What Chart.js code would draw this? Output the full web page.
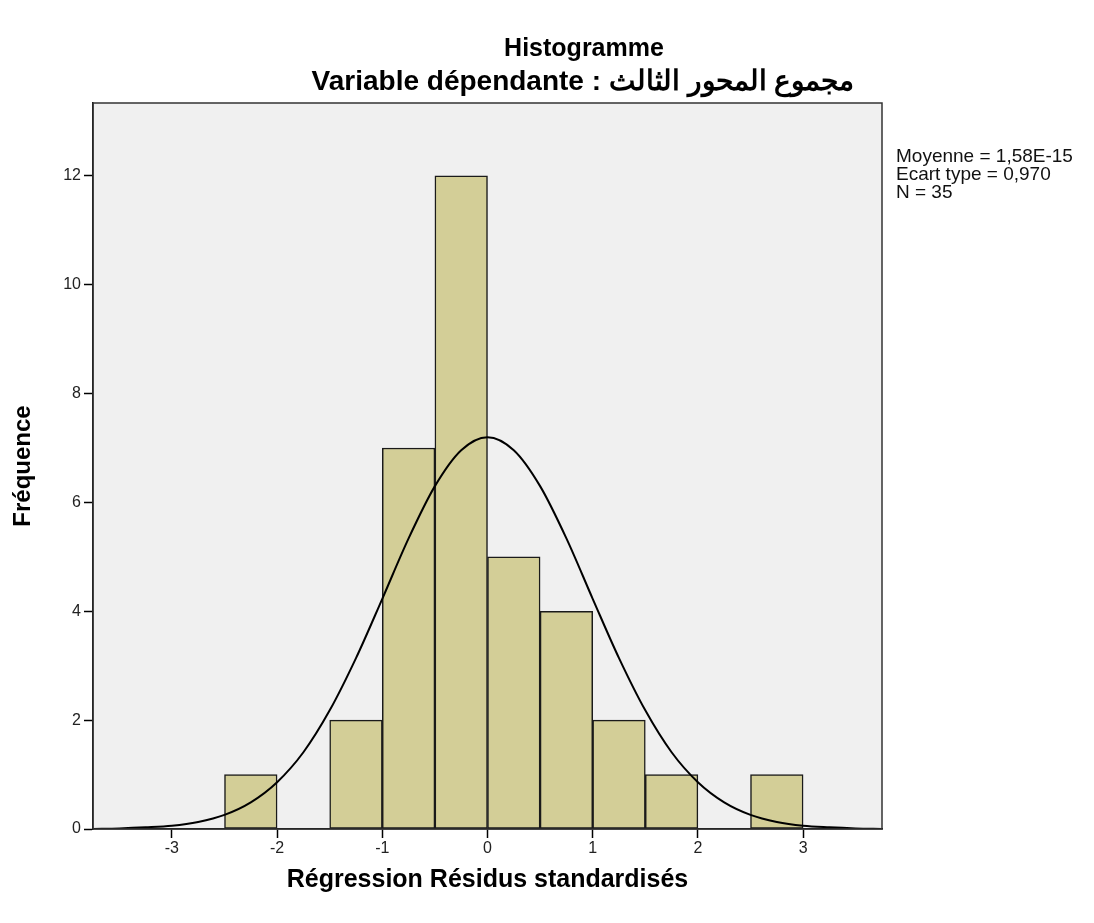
<!DOCTYPE html>
<html>
<head>
<meta charset="utf-8">
<script src="https://cdn.jsdelivr.net/npm/chart.js@4.4.1/dist/chart.umd.min.js"></script>
<style>
  html, body { margin: 0; padding: 0; background: #fff; }
  #wrap { width: 1094px; height: 923px; position: relative; }
</style>
</head>
<body>
<div id="wrap"><canvas id="histo"></canvas></div>
<script>
// bins are 0.5 wide, given by their centre
var binCenters = [-2.25, -1.25, -0.75, -0.25, 0.25, 0.75, 1.25, 1.75, 2.75];
var binCounts = [1, 2, 7, 12, 5, 4, 2, 1, 1];

// normal curve
var curveX = [-3.75, -3.5, -3.25, -3, -2.75, -2.5, -2.25, -2, -1.75, -1.5, -1.25, -1, -0.75, -0.5, -0.25,
              0, 0.25, 0.5, 0.75, 1, 1.25, 1.5, 1.75, 2, 2.25, 2.5, 2.75, 3, 3.25, 3.5, 3.75];
var curveY = [0.00, 0.01, 0.03, 0.06, 0.13, 0.26, 0.49, 0.86, 1.41, 2.18, 3.14, 4.23, 5.34, 6.30, 6.96,
              7.20, 6.96, 6.30, 5.34, 4.23, 3.14, 2.18, 1.41, 0.86, 0.49, 0.26, 0.13, 0.06, 0.03, 0.01, 0.00];

var xTicks = [-3, -2, -1, 0, 1, 2, 3];
var yTicks = [0, 2, 4, 6, 8, 10, 12];

var chartTitle = 'Histogramme';
var chartSubtitle = 'Variable dépendante : مجموع المحور الثالث';
var statsLines = ['Moyenne = 1,58E-15', 'Ecart type = 0,970', 'N = 35'];

var FONT = '"Liberation Sans", Arial, sans-serif';

var bars = binCenters.map(function (c, i) { return { x: c, y: binCounts[i] }; });
var curve = curveX.map(function (x, i) { return { x: x, y: curveY[i] }; });

// plot background, frame and the texts around the plot
var spssDecor = {
    id: 'spssDecor',
    beforeDraw: function (chart) {
        var ctx = chart.ctx, a = chart.chartArea;
        ctx.save();
        ctx.fillStyle = '#f0f0f0';
        ctx.fillRect(a.left, a.top, a.right - a.left, a.bottom - a.top);
        ctx.restore();
    },
    afterDraw: function (chart) {
        var ctx = chart.ctx, a = chart.chartArea;
        ctx.save();
        ctx.strokeStyle = '#333';
        ctx.lineWidth = 1.5;
        ctx.strokeRect(a.left, a.top, a.right - a.left, a.bottom - a.top);

        ctx.fillStyle = '#000';
        ctx.textAlign = 'center';
        ctx.textBaseline = 'alphabetic';
        ctx.font = 'bold 25px ' + FONT;
        ctx.fillText(chartTitle, 584, 56);
        ctx.font = 'bold 28px ' + FONT;
        ctx.fillText(chartSubtitle, 583, 90);

        ctx.textAlign = 'left';
        ctx.textBaseline = 'middle';
        ctx.fillStyle = '#111';
        ctx.font = '19px ' + FONT;
        statsLines.forEach(function (t, i) {
            ctx.fillText(t, 896, 157 + i * 18);
        });
        ctx.restore();
    }
};

var ctx = document.getElementById('histo').getContext('2d');
var chart = new Chart(ctx, {
    type: 'bar',
    data: {
        datasets: [{
            type: 'line',
            data: curve,
            borderColor: '#000',
            borderWidth: 2,
            pointRadius: 0,
            cubicInterpolationMode: 'monotone',
            fill: false,
            order: 0
        }, {
            type: 'bar',
            data: bars,
            backgroundColor: 'rgb(211, 206, 151)',
            borderColor: '#1a1a1a',
            borderWidth: 1.5,
            borderSkipped: false,
            barPercentage: 1,
            categoryPercentage: 1,
            order: 1
        }]
    },
    options: {
        responsive: true,
        maintainAspectRatio: false,
        animation: false,
        layout: { padding: { top: 103, right: 212, left: 0, bottom: 0 } },
        plugins: {
            legend: { display: false },
            tooltip: { enabled: false }
        },
        scales: {
            x: {
                type: 'linear',
                min: -3.75,
                max: 3.75,
                offset: false,
                afterBuildTicks: function (s) { s.ticks = xTicks.map(function (v) { return { value: v }; }); },
                afterFit: function (s) { s.height = 94; },
                ticks: { color: '#222', font: { family: FONT, size: 16 }, padding: 1, maxRotation: 0, autoSkip: false },
                grid: { display: true, offset: false, drawOnChartArea: false, drawTicks: true, tickLength: 9, tickColor: '#000', tickWidth: 1.5 },
                border: { display: true, color: '#000', width: 1.5 },
                title: {
                    display: true,
                    text: 'Régression Résidus standardisés',
                    color: '#000',
                    font: { family: FONT, size: 25, weight: 'bold' },
                    padding: { top: 0, bottom: 28 }
                }
            },
            y: {
                type: 'linear',
                min: 0,
                max: 13.34,
                afterBuildTicks: function (s) { s.ticks = yTicks.map(function (v) { return { value: v }; }); },
                afterFit: function (s) { s.width = 93; },
                ticks: { color: '#222', font: { family: FONT, size: 16 }, padding: 3 },
                grid: { display: true, drawOnChartArea: false, drawTicks: true, tickLength: 9, tickColor: '#000', tickWidth: 1.5 },
                border: { display: true, color: '#000', width: 1.5 },
                title: {
                    display: true,
                    text: 'Fréquence',
                    color: '#000',
                    font: { family: FONT, size: 24, weight: 'bold' },
                    padding: { top: 9, bottom: 0 }
                }
            }
        }
    },
    plugins: [spssDecor]
});
</script>
</body>
</html>
